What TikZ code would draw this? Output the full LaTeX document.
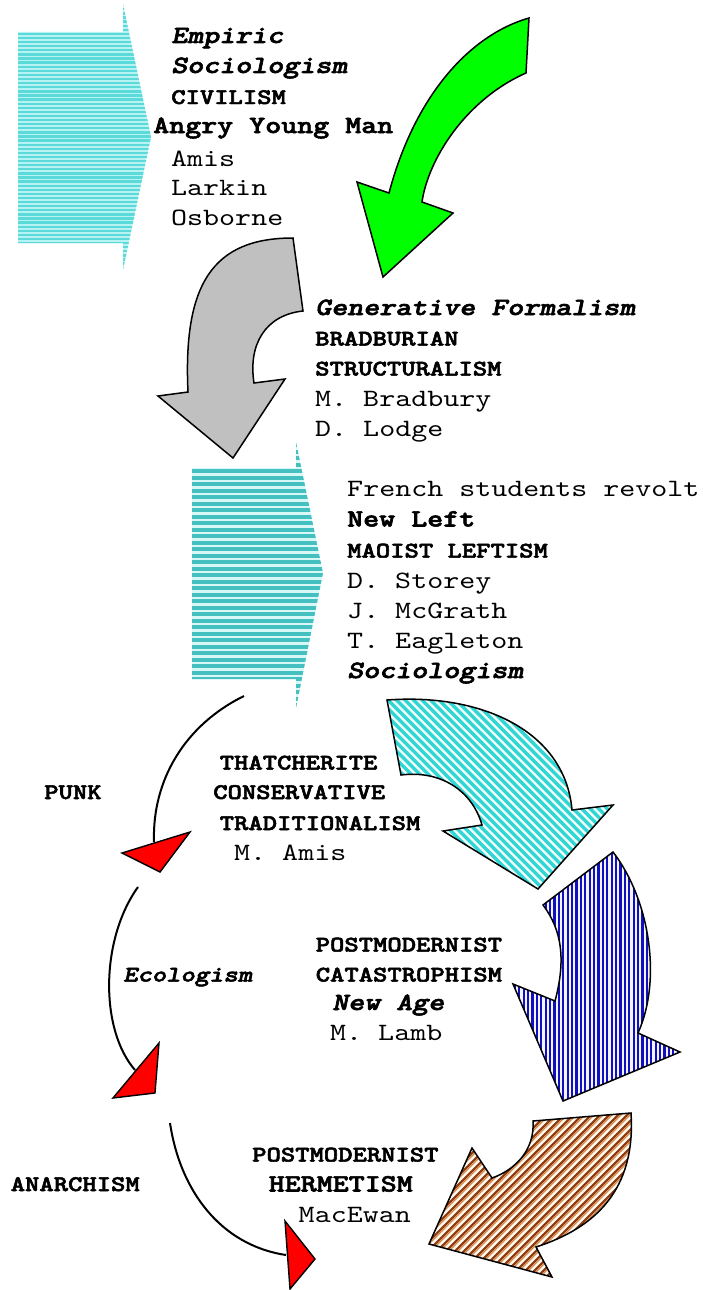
\documentclass[tikz,border=0pt]{standalone}
% typewriter faces: regular, and emboldened bold / bold oblique
\font\fReg="[lmmono10-regular]" at 24.9pt
\font\fBig="[lmmonolt10-bold]:embolden=2.2" at 24.9pt
\font\fBigIt="[lmmonolt10-boldoblique]:embolden=2.2" at 24.9pt
\font\fSm="[lmmonolt10-bold]:embolden=2.2" at 22.3pt
\font\fSmIt="[lmmonolt10-boldoblique]:embolden=2.2" at 22.3pt
\definecolor{hdarkA}{HTML}{5CDADA}
\definecolor{hlightA}{HTML}{B8F3F3}
\definecolor{hdarkB}{HTML}{44C0C0}
\definecolor{hlightB}{HTML}{D8F7F7}
\definecolor{dcyan}{HTML}{30D6D6}
\definecolor{dcyanbg}{HTML}{F4FFFA}
\definecolor{bstripe}{HTML}{1010C0}
\definecolor{bbg}{HTML}{F4F4FF}
\definecolor{brdark}{HTML}{8E3A10}
\definecolor{brmid}{HTML}{D4884A}
\definecolor{brbg}{HTML}{FFFAF2}
\definecolor{grayfill}{HTML}{C0C0C0}
\definecolor{greenfill}{HTML}{00FF00}
\begin{document}
\begin{tikzpicture}[x=1pt,y=-1pt,
  txt/.style={anchor=base west, inner sep=0pt, text=black, xscale=1.224, transform shape},
  reg/.style={txt, font=\fReg},
  bld/.style={txt, font=\fBig},
  bit/.style={txt, font=\fBigIt},
  smallcaps/.style={txt, font=\fSm},
  smallit/.style={txt, font=\fSmIt},
  outline/.style={draw=black, line width=1.5pt, line join=miter},
  flow/.style={draw=black, line width=2pt},
  redtip/.style={fill=red, draw=black, line width=1.4pt, line join=miter}]
\useasboundingbox (0,0) rectangle (702,1290);
\fill[white] (0,0) rectangle (702,1290);

% ---- horizontally striped pentagon arrows ----
\begin{scope}
  \clip (18,32) -- (123,32) -- (123,4) -- (151,137) -- (123,270) -- (123,243) -- (18,243) -- cycle;
  \fill[hlightA] (0,0) rectangle (160,280);
  \foreach \y in {0,4.1,...,280} \fill[hdarkA] (0,\y) rectangle (160,\y+2.3);
\end{scope}
\begin{scope}
  \clip (192,468) -- (296,468) -- (296,442) -- (323,573) -- (296,708) -- (296,679) -- (192,679) -- cycle;
  \fill[hlightB] (180,430) rectangle (330,720);
  \foreach \y in {430,436.5,...,720} \fill[hdarkB] (180,\y) rectangle (330,\y+4.2);
\end{scope}

% ---- green curved arrow ----
\filldraw[fill=greenfill, outline]
  (529,18) .. controls (470,35) and (415,95) .. (389,193) -- (357,182) -- (383,277)
  -- (453,213) -- (422,202) .. controls (428,160) and (465,100) .. (526,73) -- cycle;

% ---- grey curved arrow ----
\filldraw[fill=grayfill, outline]
  (293,238) .. controls (212,238) and (183,285) .. (188,392) -- (158,396) -- (233,458)
  -- (285,379) -- (254,383) .. controls (248,345) and (265,315) .. (303,311) -- cycle;

% ---- cyan diagonally hatched arrow ----
\begin{scope}
  \clip (387,700) .. controls (480,693) and (565,730) .. (572,810) -- (613,805) -- (538,889)
    -- (443,831) -- (482,825) .. controls (472,790) and (440,770) .. (401,775) -- cycle;
  \fill[dcyanbg] (380,690) rectangle (620,895);
  \foreach \c in {-240,-231.5,...,250} \draw[dcyan, line width=3.2pt] (380+\c,690) -- ++(215,215);
\end{scope}
\draw[outline]
  (387,700) .. controls (480,693) and (565,730) .. (572,810) -- (613,805) -- (538,889)
  -- (443,831) -- (482,825) .. controls (472,790) and (440,770) .. (401,775) -- cycle;

% ---- blue vertically striped arrow ----
\begin{scope}
  \clip (613,852) .. controls (650,900) and (662,980) .. (638,1033) -- (680,1052) -- (563,1101)
    -- (513,984) -- (555,1001) .. controls (566,960) and (562,930) .. (543,905) -- cycle;
  \fill[bbg] (505,845) rectangle (690,1110);
  \foreach \x in {505,509.4,...,690} \fill[bstripe] (\x,845) rectangle (\x+2.1,1110);
\end{scope}
\draw[outline]
  (613,852) .. controls (650,900) and (662,980) .. (638,1033) -- (680,1052) -- (563,1101)
  -- (513,984) -- (555,1001) .. controls (566,960) and (562,930) .. (543,905) -- cycle;

% ---- brown diagonally hatched arrow ----
\begin{scope}
  \clip (631,1113) .. controls (636,1190) and (595,1228) .. (536,1247) -- (552,1277) -- (429,1244)
    -- (472,1148) -- (492,1178) .. controls (515,1170) and (535,1150) .. (533,1121) -- cycle;
  \fill[brbg] (420,1100) rectangle (640,1285);
  \foreach \c in {-220,-211,...,240} {
    \draw[brdark, line width=2.1pt] (420+\c,1290) -- ++(200,-200);
    \draw[brmid, line width=1.4pt] (422.8+\c,1290) -- ++(200,-200);
  }
\end{scope}
\draw[outline]
  (631,1113) .. controls (636,1190) and (595,1228) .. (536,1247) -- (552,1277) -- (429,1244)
  -- (472,1148) -- (492,1178) .. controls (515,1170) and (535,1150) .. (533,1121) -- cycle;

% ---- curved connectors with red heads ----
\coordinate (f1s) at (244,696);
\coordinate (f1e) at (154,842);
\coordinate (f2s) at (138,887);
\coordinate (f2e) at (135,1070);
\coordinate (f3s) at (170,1123);
\coordinate (f3e) at (286,1255);
\draw[flow] (f1s) .. controls (185,725) and (152,780) .. (f1e);
\draw[flow] (f2s) .. controls (100,940) and (100,1030) .. (f2e);
\draw[flow] (f3s) .. controls (180,1190) and (220,1245) .. (f3e);
\filldraw[redtip] (122,853) -- (190,832) -- (160,872) -- cycle;
\filldraw[redtip] (159,1043) -- (155,1093) -- (113,1098) -- cycle;
\filldraw[redtip] (285,1221) -- (315,1259) -- (290,1289) -- cycle;

% ---- texts ----
\node[bit] (t1a) at (171,43) {Empiric};
\node[bit] (t1b) at (171,73) {Sociologism};
\node[smallcaps] (t1c) at (171,104) {CIVILISM};
\node[bld] (t1d) at (153,133) {Angry Young Man};
\node[reg] (t1e) at (171,166) {Amis};
\node[reg] (t1f) at (171,195) {Larkin};
\node[reg] (t1g) at (171,225) {Osborne};

\node[bit] (t2a) at (315,315) {Generative Formalism};
\node[smallcaps] (t2b) at (315,345.5) {BRADBURIAN};
\node[smallcaps] (t2c) at (315,375.5) {STRUCTURALISM};
\node[reg] (t2d) at (315,406.5) {M. Bradbury};
\node[reg] (t2e) at (315,436.5) {D. Lodge};

\node[reg] (t3a) at (347,496.5) {French students revolt};
\node[bld] (t3b) at (347,526.5) {New Left};
\node[smallcaps] (t3c) at (347,557.5) {MAOIST LEFTISM};
\node[reg] (t3d) at (347,588) {D. Storey};
\node[reg] (t3e) at (347,618) {J. McGrath};
\node[reg] (t3f) at (347,648) {T. Eagleton};
\node[bit] (t3g) at (347,678) {Sociologism};

\node[smallcaps] (t4a) at (219.5,769.5) {THATCHERITE};
\node[smallcaps] (t4b) at (213,799) {CONSERVATIVE};
\node[smallcaps] (t4c) at (219.5,830) {TRADITIONALISM};
\node[reg] (t4d) at (234,860) {M. Amis};
\node[smallcaps] (punk) at (44,799) {PUNK};

\node[smallit] (eco) at (123,981.5) {Ecologism};
\node[smallcaps] (t5a) at (315.5,951.5) {POSTMODERNIST};
\node[smallcaps] (t5b) at (315.5,981.5) {CATASTROPHISM};
\node[bit] (t5c) at (332,1010) {New Age};
\node[reg] (t5d) at (330,1040) {M. Lamb};

\node[smallcaps] (t6a) at (252,1161.5) {POSTMODERNIST};
\node[bld] (t6b) at (268.5,1191.5) {HERMETISM};
\node[reg] (t6c) at (298.5,1222.5) {MacEwan};
\node[smallcaps] (anar) at (10.5,1191) {ANARCHISM};
\end{tikzpicture}
\end{document}
